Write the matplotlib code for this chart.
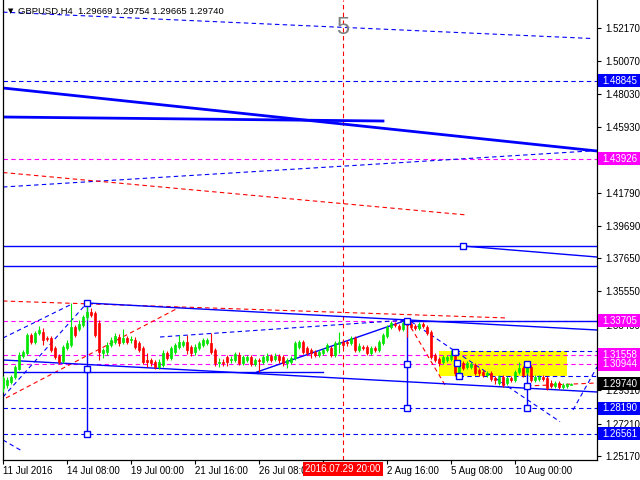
import matplotlib
matplotlib.use('Agg')
import matplotlib.pyplot as plt
from matplotlib.patches import Rectangle
import matplotlib.transforms as mtransforms

plt.rcParams['font.family'] = ['Liberation Sans', 'DejaVu Sans']

# ---------------- data ----------------
opens = [1.2946,1.2964,1.2983,1.3015,1.3065,1.3147,1.3166,1.3280,1.3236,1.3293,
         1.3299,1.3261,1.3261,1.3198,1.3147,1.3116,1.3198,1.3217,1.3330,1.3318,
         1.3343,1.3393,1.3425,1.3419,1.3356,1.3166,1.3173,1.3217,1.3236,1.3267,
         1.3236,1.3261,1.3248,1.3248,1.3229,1.3198,1.3122,1.3122,1.3110,1.3078,
         1.3091,1.3166,1.3135,1.3173,1.3204,1.3217,1.3236,1.3204,1.3173,1.3198,
         1.3217,1.3229,1.3229,1.3185,1.3103,1.3110,1.3141,1.3122,1.3122,1.3154,
         1.3103,1.3122,1.3141,1.3097,1.3122,1.3110,1.3122,1.3147,1.3128,1.3147,
         1.3141,1.3103,1.3110,1.3135,1.3204,1.3236,1.3198,1.3185,1.3173,1.3154,
         1.3166,1.3185,1.3198,1.3154,1.3223,1.3236,1.3236,1.3229,1.3261,1.3185,
         1.3204,1.3204,1.3166,1.3198,1.3185,1.3229,1.3274,1.3330,1.3349,1.3337,
         1.3318,1.3356,1.3349,1.3337,1.3324,1.3349,1.3330,1.3299,1.3154,1.3128,
         1.3110,1.3122,1.3128,1.3154,1.3040,1.3103,1.3078,1.3078,1.3091,1.3059,
         1.3046,1.3027,1.3040,1.3009,1.2977,1.3015,1.2977,1.3009,1.2996,1.3046,
         1.3072,1.3046,1.3078,1.2996,1.3002,1.3015,1.3009,1.2977,1.2958,1.2977,
         1.2952,1.2958,1.29669]
closes = [1.3009,1.2996,1.3015,1.3078,1.3154,1.3172,1.3280,1.3236,1.3293,1.3311,
          1.3248,1.3255,1.3185,1.3141,1.3110,1.3204,1.3229,1.3330,1.3280,1.3349,
          1.3393,1.3425,1.3406,1.3280,1.3173,1.3185,1.3217,1.3248,1.3274,1.3229,
          1.3261,1.3236,1.3255,1.3204,1.3185,1.3110,1.3110,1.3103,1.3078,1.3110,
          1.3166,1.3135,1.3198,1.3217,1.3236,1.3236,1.3185,1.3166,1.3204,1.3229,
          1.3248,1.3248,1.3173,1.3103,1.3110,1.3103,1.3110,1.3128,1.3160,1.3103,
          1.3141,1.3141,1.3097,1.3122,1.3116,1.3141,1.3147,1.3122,1.3147,1.3122,
          1.3103,1.3122,1.3135,1.3229,1.3236,1.3173,1.3166,1.3166,1.3154,1.3173,
          1.3185,1.3217,1.3154,1.3229,1.3236,1.3217,1.3229,1.3261,1.3185,1.3210,
          1.3198,1.3166,1.3198,1.3185,1.3236,1.3280,1.3330,1.3356,1.3343,1.3318,
          1.3356,1.3343,1.3330,1.3324,1.3349,1.3337,1.3293,1.3141,1.3122,1.3103,
          1.3141,1.3141,1.3154,1.3040,1.3078,1.3072,1.3103,1.3097,1.3040,1.3040,
          1.3027,1.3040,1.3002,1.2996,1.3015,1.2964,1.3009,1.2996,1.3046,1.3072,
          1.3027,1.3091,1.2996,1.3015,1.3015,1.3002,1.2946,1.2958,1.2977,1.2952,
          1.2964,1.2971,1.29740]
highs = [1.3021,1.3015,1.3027,1.3091,1.3173,1.3185,1.3293,1.3293,1.3305,1.3337,
         1.3324,1.3274,1.3274,1.3210,1.3160,1.3217,1.3248,1.3482,1.3343,1.3375,
         1.3406,1.3482,1.3450,1.3431,1.3375,1.3198,1.3236,1.3267,1.3293,1.3286,
         1.3318,1.3274,1.3274,1.3267,1.3242,1.3210,1.3166,1.3135,1.3122,1.3128,
         1.3185,1.3179,1.3210,1.3229,1.3280,1.3248,1.3280,1.3217,1.3223,1.3242,
         1.3261,1.3261,1.3293,1.3198,1.3135,1.3128,1.3154,1.3147,1.3173,1.3173,
         1.3154,1.3154,1.3154,1.3135,1.3135,1.3154,1.3166,1.3160,1.3166,1.3160,
         1.3154,1.3135,1.3147,1.3242,1.3248,1.3248,1.3210,1.3198,1.3185,1.3185,
         1.3198,1.3229,1.3210,1.3242,1.3299,1.3248,1.3248,1.3274,1.3274,1.3229,
         1.3217,1.3217,1.3210,1.3210,1.3248,1.3293,1.3343,1.3368,1.3362,1.3349,
         1.3368,1.3375,1.3362,1.3349,1.3362,1.3362,1.3343,1.3311,1.3166,1.3141,
         1.3154,1.3154,1.3185,1.3173,1.3091,1.3116,1.3116,1.3110,1.3103,1.3072,
         1.3059,1.3053,1.3053,1.3021,1.3027,1.3027,1.3021,1.3021,1.3059,1.3110,
         1.3084,1.3097,1.3091,1.3027,1.3027,1.3027,1.3021,1.2996,1.2990,1.2990,
         1.2977,1.2977,1.29754]
lows = [1.2920,1.2946,1.2971,1.3002,1.3059,1.3135,1.3154,1.3223,1.3223,1.3280,
        1.3217,1.3242,1.3173,1.3128,1.3097,1.3103,1.3185,1.3204,1.3267,1.3305,
        1.3330,1.3375,1.3393,1.3267,1.3122,1.3135,1.3154,1.3204,1.3223,1.3210,
        1.3223,1.3223,1.3229,1.3191,1.3173,1.3097,1.3078,1.3084,1.3065,1.3065,
        1.3078,1.3122,1.3122,1.3160,1.3191,1.3204,1.3160,1.3147,1.3154,1.3185,
        1.3204,1.3217,1.3160,1.3084,1.3078,1.3084,1.3084,1.3103,1.3110,1.3091,
        1.3091,1.3110,1.3084,1.3084,1.3046,1.3097,1.3110,1.3110,1.3116,1.3103,
        1.3084,1.3072,1.3097,1.3122,1.3191,1.3160,1.3154,1.3135,1.3141,1.3141,
        1.3154,1.3173,1.3141,1.3141,1.3166,1.3198,1.3210,1.3217,1.3173,1.3173,
        1.3185,1.3154,1.3154,1.3173,1.3173,1.3217,1.3261,1.3318,1.3330,1.3305,
        1.3305,1.3267,1.3318,1.3311,1.3311,1.3324,1.3280,1.3128,1.3110,1.3084,
        1.3097,1.3110,1.3116,1.3021,1.3021,1.3059,1.3065,1.3065,1.3027,1.3021,
        1.3015,1.3015,1.2990,1.2971,1.2964,1.2952,1.2964,1.2983,1.2983,1.3034,
        1.3015,1.3034,1.2983,1.2983,1.2990,1.2990,1.2933,1.2946,1.2946,1.2939,
        1.2939,1.2946,1.29665]

time_tick_bars = [0, 16, 32, 48, 64, 80, 96, 112, 128]
time_tick_labels = ['11 Jul 2016', '14 Jul 08:00', '19 Jul 00:00', '21 Jul 16:00',
                    '26 Jul 08:0', '', '2 Aug 16:00', '5 Aug 08:00',
                    '10 Aug 00:00']
price_ticks = [1.52170, 1.50070, 1.48030, 1.45930, 1.43890, 1.41790, 1.39690,
               1.37650, 1.35550, 1.33450, 1.31410, 1.29310, 1.27210, 1.25170]
price_tick_labels = ['1.52170', '1.50070', '1.48030', '1.45930', '', '1.41790',
                     '1.39690', '1.37650', '1.35550', '1.33450', '', '1.29310',
                     '1.27210', '1.25170']

title_text = 'GBPUSD,H4  1.29669 1.29754 1.29665 1.29740'

# objects: (bar0, price0, bar1, price1)
solid_thick = [(0, 1.48385, 148.5, 1.44410), (0, 1.46555, 95, 1.46302)]
solid_thin = [(0, 1.38416, 148.5, 1.38416), (115, 1.38416, 148.5, 1.37722),
              (0, 1.37154, 148.5, 1.37154), (21, 1.34820, 148.5, 1.33117),
              (0, 1.31224, 148.5, 1.29205), (0, 1.30467, 80, 1.30467),
              (63.5, 1.30467, 101, 1.33747), (101, 1.33705, 148.5, 1.33705),
              (21, 1.34820, 21, 1.26561), (101, 1.33705, 101, 1.28190),
              (131, 1.30944, 131, 1.28190)]
dashed_blue = [(0, 1.53170, 147, 1.51510), (0, 1.48845, 148.5, 1.48845),
               (0, 1.42138, 146.75, 1.44410), (0, 1.32612, 17.25, 1.34757),
               (0, 1.28889, 21, 1.34820), (0, 1.28190, 148.5, 1.28190),
               (0, 1.26561, 148.5, 1.26561), (39.25, 1.32675, 101, 1.33747),
               (113, 1.31790, 148.5, 1.31790), (114, 1.30233, 148.5, 1.30233),
               (102, 1.33650, 139.25, 1.27331), (142.5, 1.28069, 148.5, 1.30782),
               (0, 1.26176, 4.75, 1.25483)]
dashed_red = [(0, 1.43053, 116, 1.40372), (0, 1.34946, 126.25, 1.33874),
              (0.75, 1.28826, 44.25, 1.34567), (131, 1.29584, 148.5, 1.29773),
              (101, 1.33700, 110.5, 1.29645)]
magenta_levels = [1.43926, 1.33705, 1.31558, 1.30944]
square_bars = [21, 21, 21, 101, 101, 101, 131, 131, 131, 113, 113.5, 114, 115]
square_prices = [1.34820, 1.30656, 1.26561, 1.33705, 1.30944, 1.28190,
                 1.30944, 1.29584, 1.28190, 1.31729, 1.31056, 1.30234, 1.38416]
box_bars = (109, 141)
box_prices = (1.30233, 1.31792)
vline_bar = 85
vline_label = '2016.07.29 20:00'
wave_label = '5'
wave_price = 1.5217

price_labels = [1.48845, 1.43926, 1.33705, 1.31558, 1.30944, 1.29740, 1.28190, 1.26561]
price_label_colors = ['#0000FF', '#FF00FF', '#FF00FF', '#FF00FF', '#FF00FF',
                      '#000000', '#0000FF', '#0000FF']

# ---------------- figure ----------------
fig = plt.figure(figsize=(6.4, 4.8), dpi=100)
ax = fig.add_axes([3/640, 20/480, 594/640, 460/480])
ax.set_xlim(0, 148.5)
ax.set_ylim(1.24914, 1.53937)

BLUE = '#0000FF'
RED = '#FF0000'
MAG = '#FF00FF'
GREEN = '#00E600'
dash = (0, (4, 3))

# yellow rectangle (background)
ax.add_patch(Rectangle((box_bars[0], box_prices[0]), box_bars[1] - box_bars[0],
                       box_prices[1] - box_prices[0], facecolor='#FFFF00',
                       edgecolor='none', zorder=0))

for lv in magenta_levels:
    ax.axhline(lv, color=MAG, lw=0.8, ls=dash, zorder=1)
for x0, y0, x1, y1 in dashed_blue:
    ax.plot([x0, x1], [y0, y1], color=BLUE, lw=0.8, ls=dash, zorder=1)
for x0, y0, x1, y1 in dashed_red:
    ax.plot([x0, x1], [y0, y1], color=RED, lw=0.8, ls=dash, zorder=1)
for x0, y0, x1, y1 in solid_thick:
    ax.plot([x0, x1], [y0, y1], color=BLUE, lw=2.0, zorder=2)
for x0, y0, x1, y1 in solid_thin:
    ax.plot([x0, x1], [y0, y1], color=BLUE, lw=1.0, zorder=2)
ax.axvline(vline_bar, color=RED, lw=0.8, ls=dash, zorder=1)

# candles
for i, (o, c, h, l) in enumerate(zip(opens, closes, highs, lows)):
    col = GREEN if c >= o else RED
    ax.plot([i, i], [l, h], color=col, lw=0.8, zorder=3, solid_capstyle='butt')
    lo, hi = min(o, c), max(o, c)
    if hi - lo < 0.00012:
        hi = lo + 0.00012
    ax.add_patch(Rectangle((i - 0.35, lo), 0.7, hi - lo, facecolor=col,
                           edgecolor=col, lw=0.5, zorder=3))

ax.plot(square_bars, square_prices, ls='none', marker='s', ms=5, mfc='white',
        mec=BLUE, mew=1.0, zorder=4)

ax.text(vline_bar, wave_price, wave_label, color='#808080', fontsize=17,
        ha='center', va='center', zorder=5)

# axes styling
ax.spines['top'].set_visible(False)
for s in ['left', 'bottom', 'right']:
    ax.spines[s].set_linewidth(0.9)
ax.yaxis.tick_right()
ax.set_yticks(price_ticks)
ax.set_yticklabels(price_tick_labels)
ax.tick_params(axis='y', direction='out', length=3, width=0.8, pad=3, labelsize=7)
ax.set_xticks(time_tick_bars)
ax.set_xticklabels(time_tick_labels)
ax.tick_params(axis='x', direction='out', length=3, width=0.8, pad=1, labelsize=7)
for lab in ax.get_xticklabels():
    lab.set_horizontalalignment('left')

# title
fig.text(8/640, 1 - 11/480, '\u25BC', fontsize=5, color='black', ha='left', va='center',
         family='DejaVu Sans')
fig.text(18/640, 1 - 11/480, title_text, fontsize=6.8, color='black', ha='left', va='center')

# right price labels
trans = mtransforms.blended_transform_factory(ax.transAxes, ax.transData)
h = 13 / 1585.0
for p, col in zip(price_labels, price_label_colors):
    ax.add_patch(Rectangle((1.0 + 1/594, p - h/2), 45/594, h, transform=trans,
                           facecolor=col, edgecolor='none', clip_on=False, zorder=10))
    ax.text(1.0 + 5/594, p, f'{p:.5f}', transform=trans, color='white', fontsize=7,
            ha='left', va='center', clip_on=False, zorder=11)

# vertical line time label
transx = mtransforms.blended_transform_factory(ax.transData, ax.transAxes)
ax.text(vline_bar, -9/460, vline_label, transform=transx, color='white', fontsize=7,
        ha='center', va='center', zorder=11, clip_on=False,
        bbox=dict(boxstyle='square,pad=0.25', facecolor=RED, edgecolor='none'))

fig.savefig('out.png', dpi=100)
